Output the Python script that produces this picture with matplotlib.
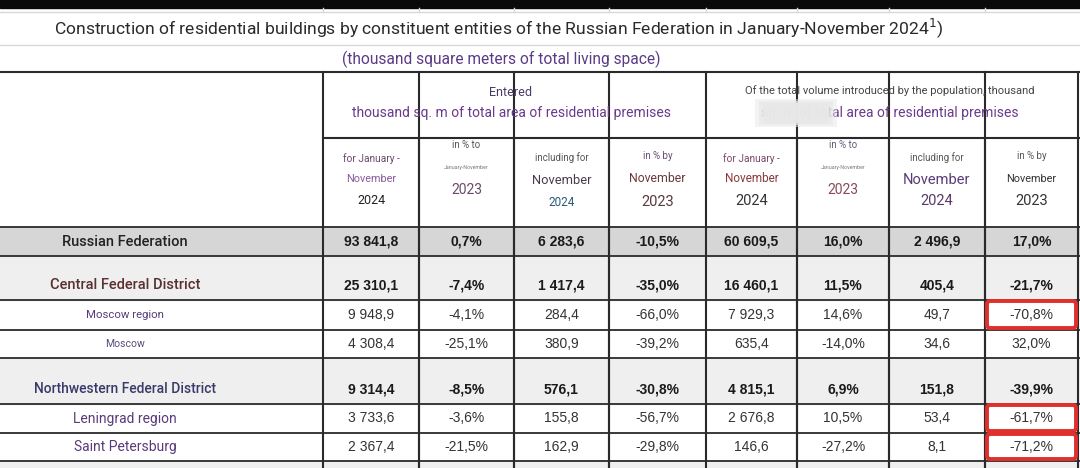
import matplotlib
matplotlib.use('Agg')
import matplotlib.pyplot as plt
from matplotlib.patches import Rectangle, FancyBboxPatch

# table data
regions = ["Russian Federation", "Central Federal District", "Moscow region", "Moscow",
           "Northwestern Federal District", "Leningrad region", "Saint Petersburg"]
row_kind = ["total", "district", "sub", "sub", "district", "sub", "sub"]

entered_jan_nov_2024 = [93841.8, 25310.1, 9948.9, 4308.4, 9314.4, 3733.6, 2367.4]
entered_pct_jan_nov = [0.7, -7.4, -4.1, -25.1, -8.5, -3.6, -21.5]
entered_nov_2024 = [6283.6, 1417.4, 284.4, 380.9, 576.1, 155.8, 162.9]
entered_pct_nov = [-10.5, -35.0, -66.0, -39.2, -30.8, -56.7, -29.8]
pop_jan_nov_2024 = [60609.5, 16460.1, 7929.3, 635.4, 4815.1, 2676.8, 146.6]
pop_pct_jan_nov = [16.0, 11.5, 14.6, -14.0, 6.9, 10.5, -27.2]
pop_nov_2024 = [2496.9, 405.4, 49.7, 34.6, 151.8, 53.4, 8.1]
pop_pct_nov = [17.0, -21.7, -70.8, 32.0, -39.9, -61.7, -71.2]

highlighted = ["Moscow region", "Leningrad region", "Saint Petersburg"]

title = "Construction of residential buildings by constituent entities of the Russian Federation in January-November 2024$^{1}$)"
subtitle = "(thousand square meters of total living space)"

# layout in pixels
col_x = [0, 323, 419, 514, 609, 706, 797, 889, 985, 1078]
row_y = [227, 256, 300, 330, 358, 404, 433, 461, 468]

# header text of each sub column: (text, size, color, y)
sub_headers = [
    [("for January -", 7.3, "#6a4a6a", 159), ("November", 7.8, "#8a5a9a", 179), ("2024", 9, "#222222", 201)],
    [("in % to", 7, "#555555", 145), ("January-November", 3.8, "#777777", 168), ("2023", 10, "#6a4a6a", 190)],
    [("including for", 7, "#555555", 158), ("November", 9.3, "#4a3a4a", 180), ("2024", 8.5, "#2a5a7a", 202)],
    [("in % by", 7, "#6a4a7a", 156), ("November", 8.8, "#6a3a3a", 179), ("2023", 10.5, "#5a3a3a", 202)],
    [("for January -", 7.3, "#7a4a6a", 159), ("November", 8.5, "#8a3a3a", 179), ("2024", 10.5, "#333333", 201)],
    [("in % to", 7, "#6a5a7a", 145), ("January-November", 3.8, "#777777", 168), ("2023", 10, "#8a4a5a", 190)],
    [("including for", 7, "#555555", 158), ("November", 10.5, "#5a3a7a", 180), ("2024", 10.5, "#5a3a6a", 201)],
    [("in % by", 7, "#555555", 156), ("November", 7.8, "#333333", 179), ("2023", 10.5, "#333333", 201)],
]

label_style = {
    "Russian Federation": (10.5, "#222222"),
    "Central Federal District": (10.5, "#5a3030"),
    "Moscow region": (8.2, "#5a3a7a"),
    "Moscow": (7.5, "#5a4a7a"),
    "Northwestern Federal District": (10, "#3a3a6a"),
    "Leningrad region": (10, "#5a3a7a"),
    "Saint Petersburg": (10, "#5a3a7a"),
}


def fmt_num(v):
    return f"{v:,.1f}".replace(",", " ").replace(".", ",")


def fmt_pct(v):
    return f"{v:.1f}%".replace(".", ",")


columns = [
    [fmt_num(v) for v in entered_jan_nov_2024],
    [fmt_pct(v) for v in entered_pct_jan_nov],
    [fmt_num(v) for v in entered_nov_2024],
    [fmt_pct(v) for v in entered_pct_nov],
    [fmt_num(v) for v in pop_jan_nov_2024],
    [fmt_pct(v) for v in pop_pct_jan_nov],
    [fmt_num(v) for v in pop_nov_2024],
    [fmt_pct(v) for v in pop_pct_nov],
]

fig = plt.figure(figsize=(10.8, 4.68), dpi=100)
ax = fig.add_axes([0, 0, 1, 1])
ax.set_xlim(0, 1080)
ax.set_ylim(468, 0)
ax.axis('off')

line_c = "#2a2a2a"

# top dark strip and title rows
ax.add_patch(Rectangle((0, 0), 1080, 8, color="#0a0a0a", zorder=1))
for y in [12, 45]:
    ax.plot([0, 1080], [y, y], color="#d8d8d8", lw=1, zorder=2)
for x in col_x[1:-1]:
    ax.plot([x, x], [8, 12], color="#d8d8d8", lw=1, zorder=2)
ax.text(499, 28, title, ha='center', va='center', fontsize=12.6, family='Roboto', color="#2a2a2a")
ax.text(501, 59, subtitle, ha='center', va='center', fontsize=11.2, family='Roboto', color="#5b3a86")

# row backgrounds
for i, kind in enumerate(row_kind + ["district"]):
    if kind == "sub":
        continue
    fc = "#d6d6d6" if kind == "total" else "#efefef"
    ax.add_patch(Rectangle((0, row_y[i]), 1080, row_y[i + 1] - row_y[i], color=fc, zorder=1))

# grid lines
ax.plot([0, 1080], [72, 72], color=line_c, lw=1.5, zorder=3)
ax.plot([col_x[1], 1080], [138, 138], color=line_c, lw=1.5, zorder=3)
for y in row_y[:-1]:
    ax.plot([0, 1080], [y, y], color=line_c, lw=1.3, zorder=3)
for x in col_x[1:]:
    ax.plot([x, x], [72, 468], color=line_c, lw=1.5, zorder=3)
for x in col_x[2:5] + col_x[6:9]:
    ax.plot([x, x], [138, 468], color=line_c, lw=1.5, zorder=3)

# group headers
ax.text(511, 92, "Entered", ha='center', va='center', fontsize=9, family='Roboto', color="#4a3a6a")
ax.text(512, 113, "thousand sq. m of total area of residential premises", ha='center', va='center',
        fontsize=10, family='Roboto', color="#6a3a8a")
ax.text(890, 91, "Of the total volume introduced by the population, thousand", ha='center', va='center',
        fontsize=8, family='Roboto', color="#444444")
ax.text(890, 113, "sq. m of total area of residential premises", ha='center', va='center',
        fontsize=10, family='Roboto', color="#6a3a8a")
# blurred patch over part of the header
for k, a in enumerate([0.5, 0.7, 0.9]):
    ax.add_patch(Rectangle((755 + k * 4, 99 + k * 2), 82 - k * 8, 28 - k * 4, color="#e8e8e8",
                           alpha=a, lw=0, zorder=4))

# sub headers
for j, lines in enumerate(sub_headers):
    cx = (col_x[j + 1] + col_x[j + 2]) / 2
    for text, size, color, y in lines:
        ax.text(cx, y, text, ha='center', va='center', fontsize=size, family='Roboto', color=color)

# body
for i, name in enumerate(regions):
    kind = row_kind[i]
    if kind == "district":
        ty = row_y[i + 1] - 15
    else:
        ty = (row_y[i] + row_y[i + 1]) / 2
    size, color = label_style[name]
    weight = 'medium' if kind != "sub" else 'normal'
    ax.text(125, ty, name, ha='center', va='center', fontsize=size, family='Roboto',
            color=color, fontweight=weight)
    for j, col in enumerate(columns):
        cx = (col_x[j + 1] + col_x[j + 2]) / 2
        ax.text(cx, ty, col[i], ha='center', va='center', fontsize=10, family='Liberation Sans',
                color="#1a1a1a" if kind != "sub" else "#333333",
                fontweight='bold' if kind != "sub" else 'normal')
    if name in highlighted:
        x0 = col_x[8] + 2
        ax.add_patch(FancyBboxPatch((x0, row_y[i] + 1), col_x[9] - x0 - 2, row_y[i + 1] - row_y[i] - 3,
                                    boxstyle="round,pad=0,rounding_size=3", fill=False,
                                    ec="#e0302e", lw=2.8, zorder=5))

fig.savefig("out.png", dpi=100)
